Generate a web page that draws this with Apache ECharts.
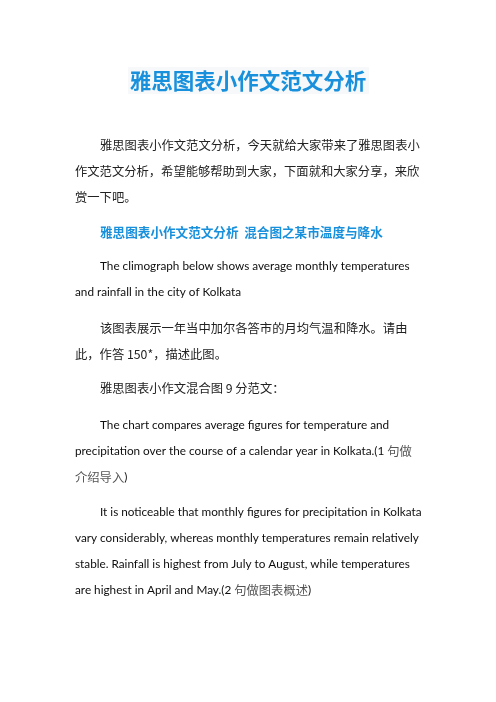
<!DOCTYPE html>
<html>
<head>
<meta charset="utf-8">
<script src="https://cdn.jsdelivr.net/npm/echarts@6/dist/echarts.min.js"></script>
<style>
  html, body { margin: 0; padding: 0; background: #fff; }
  #main { width: 496px; height: 702px; }
</style>
</head>
<body>
<div id="main"></div>
<script>
const title = '雅思图表小作文范文分析';
const subtitle = '雅思图表小作文范文分析  混合图之某市温度与降水';

// each paragraph: lines as they break on the page, lang marks the font
const introLines = [
  '雅思图表小作文范文分析，今天就给大家带来了雅思图表小',
  '作文范文分析，希望能够帮助到大家，下面就和大家分享，来欣',
  '赏一下吧。'
];
const taskLines = [
  'The climograph below shows average monthly temperatures',
  'and rainfall in the city of Kolkata'
];
const taskCnLines = [
  '该图表展示一年当中加尔各答市的月均气温和降水。请由',
  '此，作答 150*，描述此图。'
];
const sampleHead = ['雅思图表小作文混合图 9 分范文：'];
const introSample = [
  ['The chart compares average figures for temperature and', ''],
  ['precipitation over the course of a calendar year in Kolkata.(1 ', '句做'],
  ['', '介绍导入)']
];
const overview = [
  ['It is noticeable that monthly figures for precipitation in Kolkata', ''],
  ['vary considerably, whereas monthly temperatures remain relatively', ''],
  ['stable. Rainfall is highest from July to August, while temperatures', ''],
  ['are highest in April and May.(2 ', '句做图表概述)']
];

const chart = echarts.init(document.getElementById('main'), null, { renderer: 'canvas' });

const cnFont = '"Noto Sans CJK SC", sans-serif';
const enFamily = 'Lato';
const ctx = document.createElement('canvas').getContext('2d');
// fit the latin size so the widest line spans like the page
ctx.font = '100px ' + enFamily;
const enSize = Math.min(14, 100 * 344 / ctx.measureText(overview[1][0]).width);
const enFont = enFamily + ', sans-serif';

const left = 75, indent = 100, lineGap = 26;
const els = [];

els.push({
  type: 'rect', shape: { x: 128, y: 67, width: 241, height: 27 },
  style: { fill: '#f7f8fa' }
});
els.push({
  type: 'text', x: 248, y: 81,
  style: { text: title, font: 'bold 21.5px ' + cnFont, fill: '#1890dc', align: 'center', verticalAlign: 'middle' }
});

function cnLines(lines, y0) {
  lines.forEach((t, i) => {
    els.push({
      type: 'text', x: i === 0 ? indent : left, y: y0 + i * lineGap,
      style: { text: t, font: '12.3px ' + cnFont, fill: '#222', verticalAlign: 'middle' }
    });
  });
}
function mixedLines(lines, y0) {
  lines.forEach((pair, i) => {
    let x = i === 0 ? indent : left;
    const y = y0 + i * lineGap;
    if (pair[0]) {
      els.push({
        type: 'text', x: x, y: y,
        style: { text: pair[0], font: enSize + 'px ' + enFont, fill: '#0e0e0e', verticalAlign: 'middle' }
      });
      ctx.font = enSize + 'px ' + enFamily;
      x += ctx.measureText(pair[0]).width;
    }
    if (pair[1]) {
      let t = pair[1];
      const close = t.endsWith(')');
      if (close) t = t.slice(0, -1);
      els.push({
        type: 'text', x: x, y: y,
        style: { text: t, font: '12.3px ' + cnFont, fill: '#555', verticalAlign: 'middle' }
      });
      if (close) {
        ctx.font = '12.3px ' + cnFont;
        x += ctx.measureText(t).width;
        els.push({
          type: 'text', x: x, y: y,
          style: { text: ')', font: enSize + 'px ' + enFont, fill: '#0e0e0e', verticalAlign: 'middle' }
        });
      }
    }
  });
}

cnLines(introLines, 145);
els.push({
  type: 'text', x: indent, y: 232,
  style: { text: subtitle, font: 'bold 12.6px ' + cnFont, fill: '#1890dc', verticalAlign: 'middle' }
});
mixedLines(taskLines.map(t => [t, '']), 266);
cnLines(taskCnLines, 328);
els.push({
  type: 'text', x: indent, y: 388,
  style: { text: sampleHead[0], font: '12.3px ' + cnFont, fill: '#222', verticalAlign: 'middle' }
});
mixedLines(introSample, 425);
mixedLines(overview, 512);

chart.setOption({
  backgroundColor: '#ffffff',
  animation: false,
  graphic: { elements: els }
});
</script>
</body>
</html>
